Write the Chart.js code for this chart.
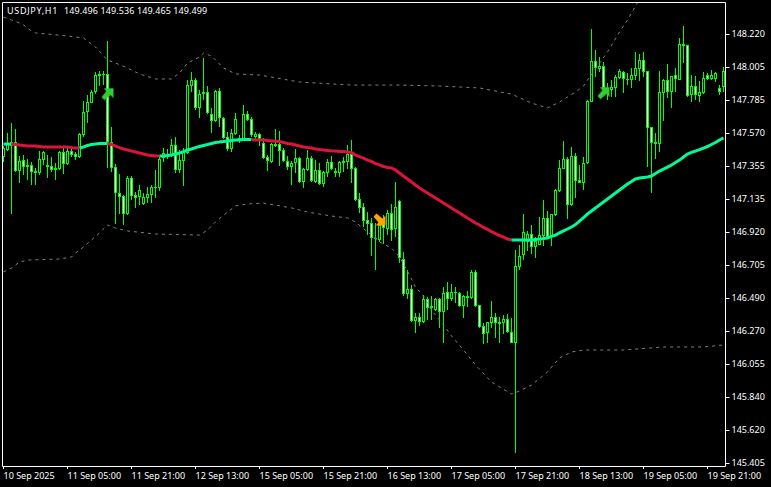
<!DOCTYPE html>
<html>
<head>
<meta charset="utf-8">
<title>USDJPY,H1</title>
<script src="https://cdn.jsdelivr.net/npm/chart.js@4"></script>
<style>
  html, body { margin: 0; padding: 0; background: #000; }
  canvas { display: block; }
</style>
</head>
<body>
<canvas id="myChart" width="771" height="487"></canvas>
<script>
// prices, one entry per H1 bar
var opens = [147.413,147.459,147.485,147.511,147.321,147.393,147.361,147.361,147.308,147.308,147.393,147.361,147.354,147.328,147.334,147.446,147.367,147.452,147.433,147.413,
147.557,147.708,147.767,147.839,147.958,147.951,147.958,147.511,147.347,147.177,147.157,147.039,147.275,147.164,147.151,147.105,147.144,147.164,147.210,147.210,
147.406,147.426,147.426,147.492,147.328,147.387,147.439,147.879,147.918,147.735,147.826,147.839,147.695,147.649,147.846,147.669,147.544,147.466,147.564,147.538,
147.525,147.695,147.662,147.544,147.564,147.505,147.413,147.380,147.485,147.498,147.459,147.387,147.347,147.374,147.406,147.249,147.328,147.406,147.249,147.328,
147.236,147.308,147.380,147.321,147.308,147.374,147.380,147.433,147.341,147.138,147.085,147.000,146.980,146.882,146.869,146.980,146.941,147.046,146.941,147.125,
146.744,146.514,146.547,146.337,146.363,146.331,146.482,146.423,146.409,146.482,146.396,146.527,146.482,146.527,146.521,146.436,146.501,146.488,146.659,146.442,
146.304,146.259,146.324,146.363,146.331,146.324,146.350,146.265,146.193,146.692,146.770,146.856,146.908,146.823,146.836,146.895,147.013,146.888,147.033,147.190,
147.334,147.400,147.098,147.420,147.262,147.243,147.374,147.774,148.043,147.990,148.010,147.853,147.853,147.866,147.931,147.971,147.925,147.918,147.944,147.990,
148.049,147.977,147.610,147.511,147.498,147.833,147.918,147.839,147.951,147.918,148.154,148.148,147.820,147.879,147.813,147.833,147.951,147.925,147.925,147.866,147.872];
var highs = [147.485,147.571,147.636,147.597,147.420,147.426,147.400,147.380,147.341,147.452,147.452,147.426,147.413,147.374,147.452,147.479,147.479,147.479,147.446,147.571,
147.780,147.820,147.853,147.971,147.977,147.977,148.174,147.610,147.367,147.302,147.164,147.288,147.288,147.184,147.229,147.177,147.216,147.229,147.328,147.413,
147.472,147.466,147.531,147.544,147.459,147.472,147.918,147.971,147.931,147.853,148.063,147.879,147.735,147.853,147.866,147.675,147.577,147.597,147.702,147.557,
147.754,147.715,147.675,147.577,147.571,147.538,147.426,147.505,147.597,147.584,147.472,147.420,147.387,147.466,147.413,147.341,147.459,147.420,147.393,147.374,
147.321,147.400,147.420,147.341,147.387,147.413,147.492,147.525,147.347,147.177,147.111,147.052,147.013,146.980,147.007,147.033,147.065,147.105,147.249,147.131,
146.790,146.672,146.573,146.390,146.390,146.508,146.495,146.501,146.488,146.488,146.560,146.593,146.580,146.560,146.527,146.508,146.534,146.672,146.672,146.442,
146.324,146.331,146.469,146.390,146.363,146.377,146.383,146.357,146.803,146.836,147.039,146.928,146.967,146.888,147.020,147.131,147.059,147.039,147.203,147.393,
147.518,147.413,147.479,147.439,147.361,147.413,147.787,148.253,148.115,148.069,148.036,147.899,147.918,147.951,147.990,147.977,147.964,147.997,148.102,148.089,
148.102,147.977,147.610,147.571,147.977,147.925,148.023,147.944,147.997,148.194,148.272,148.148,147.951,147.944,147.912,147.971,147.964,147.984,147.971,147.885,148.003];
var lows = [147.380,147.452,147.039,147.315,147.243,147.295,147.262,147.229,147.229,147.295,147.361,147.275,147.315,147.262,147.328,147.302,147.361,147.413,147.393,147.406,
147.544,147.636,147.767,147.826,147.879,147.885,147.341,147.315,146.974,147.039,146.967,147.033,147.131,147.079,147.098,147.098,147.111,147.111,147.144,147.190,
147.380,147.400,147.413,147.308,147.308,147.223,147.433,147.839,147.721,147.669,147.787,147.695,147.571,147.643,147.610,147.531,147.452,147.446,147.557,147.505,
147.518,147.649,147.544,147.525,147.485,147.400,147.321,147.374,147.479,147.354,147.380,147.328,147.229,147.308,147.243,147.210,147.321,147.249,147.243,147.229,
147.216,147.282,147.328,147.282,147.282,147.315,147.334,147.243,147.125,147.046,146.954,146.901,146.764,146.672,146.856,146.843,146.901,146.862,146.888,146.718,
146.501,146.482,146.331,146.259,146.304,146.324,146.344,146.344,146.403,146.291,146.193,146.409,146.469,146.455,146.429,146.357,146.429,146.482,146.429,146.291,
146.187,146.193,146.291,146.226,146.193,146.252,146.259,146.193,145.471,146.672,146.737,146.796,146.777,146.751,146.836,146.829,146.888,146.829,147.026,147.184,
147.334,147.006,147.092,147.144,147.243,147.197,147.367,147.774,147.938,147.971,147.820,147.787,147.807,147.807,147.925,147.833,147.885,147.866,147.918,147.912,
147.938,147.347,147.177,147.400,147.446,147.649,147.800,147.735,147.839,147.918,148.030,147.807,147.774,147.787,147.774,147.826,147.918,147.918,147.905,147.820,147.839];
var closes = [147.472,147.505,147.511,147.321,147.387,147.347,147.347,147.315,147.321,147.400,147.446,147.347,147.328,147.341,147.446,147.367,147.452,147.426,147.413,147.564,
147.708,147.774,147.839,147.951,147.944,147.958,147.511,147.341,147.177,147.151,147.039,147.275,147.157,147.144,147.197,147.151,147.170,147.216,147.216,147.400,
147.439,147.413,147.492,147.328,147.393,147.446,147.885,147.918,147.735,147.826,147.839,147.702,147.649,147.846,147.669,147.538,147.466,147.571,147.662,147.531,
147.695,147.656,147.557,147.564,147.531,147.406,147.387,147.498,147.498,147.452,147.387,147.347,147.374,147.406,147.249,147.334,147.406,147.256,147.328,147.236,
147.315,147.380,147.334,147.308,147.380,147.387,147.433,147.334,147.131,147.079,146.993,146.974,146.882,146.875,146.967,146.947,147.046,146.934,147.085,146.751,
146.514,146.547,146.337,146.363,146.331,146.482,146.423,146.436,146.482,146.396,146.521,146.482,146.527,146.521,146.436,146.501,146.488,146.659,146.436,146.298,
146.252,146.331,146.363,146.324,146.317,146.350,146.265,146.193,146.698,146.764,146.921,146.908,146.823,146.862,146.901,147.013,146.888,147.039,147.197,147.341,
147.400,147.098,147.420,147.256,147.243,147.374,147.780,148.043,147.997,148.010,147.866,147.866,147.872,147.938,147.977,147.925,147.918,147.951,147.997,148.049,
147.971,147.603,147.505,147.498,147.839,147.918,147.839,147.944,147.925,148.154,148.141,147.813,147.879,147.820,147.839,147.931,147.925,147.951,147.964,147.839,147.977];

// moving average, drawn red on the spans listed below and green elsewhere
var maValues = [147.498,147.498,147.498,147.495,147.492,147.489,147.485,147.485,147.485,147.482,147.479,147.479,147.479,147.479,147.479,147.479,147.479,147.475,147.472,147.472,
147.479,147.489,147.495,147.498,147.502,147.502,147.502,147.495,147.485,147.475,147.466,147.459,147.452,147.446,147.439,147.433,147.426,147.423,147.420,147.420,
147.420,147.423,147.426,147.433,147.439,147.449,147.459,147.466,147.475,147.482,147.489,147.495,147.502,147.508,147.511,147.515,147.518,147.521,147.525,147.525,
147.528,147.528,147.528,147.525,147.525,147.525,147.521,147.518,147.518,147.515,147.508,147.502,147.498,147.492,147.485,147.479,147.475,147.472,147.466,147.462,
147.459,147.456,147.452,147.452,147.449,147.449,147.446,147.443,147.426,147.416,147.406,147.393,147.384,147.370,147.361,147.351,147.344,147.341,147.328,147.308,
147.288,147.269,147.249,147.229,147.210,147.193,147.177,147.161,147.144,147.128,147.111,147.095,147.079,147.062,147.046,147.029,147.013,146.997,146.980,146.967,
146.951,146.938,146.924,146.911,146.898,146.888,146.875,146.869,146.869,146.869,146.869,146.869,146.869,146.872,146.875,146.879,146.882,146.892,146.901,146.915,
146.928,146.941,146.954,146.970,146.993,147.016,147.039,147.059,147.079,147.098,147.118,147.138,147.157,147.177,147.197,147.216,147.236,147.252,147.269,147.275,
147.279,147.282,147.288,147.305,147.321,147.334,147.347,147.361,147.377,147.393,147.413,147.433,147.443,147.452,147.462,147.472,147.482,147.495,147.508,147.525,147.538];
var maRedSpans = [[2, 19], [26, 39], [62, 127]];

// envelope bands, only the bends were read, the line joins them
var upperIdx = [0,2,4,5,6,7,8,11,16,18,20,21,23,26,28,31,34,38,42,44,46,49,50,52,55,58,64,74,87,99,109,119,127,132,136,139,141,143,145,146,151,154,156,158,160];
var upperVal = [148.331,148.312,148.292,148.279,148.259,148.240,148.227,148.220,148.207,148.200,148.194,148.174,148.135,148.049,148.030,147.997,147.958,147.925,147.925,147.964,148.030,148.069,148.095,148.076,147.997,147.958,147.951,147.905,147.885,147.885,147.879,147.866,147.826,147.767,147.735,147.774,147.807,147.839,147.879,147.918,148.102,148.233,148.312,148.404,148.495];
var lowerIdx = [0,2,4,6,14,17,18,20,22,24,26,28,31,38,49,51,53,56,58,61,65,72,76,82,86,88,91,94,97,99,101,103,105,107,110,112,115,118,122,127,129,132,136,139,142,145,155,165,175,180];
var lowerVal = [146.659,146.685,146.724,146.737,146.744,146.757,146.783,146.823,146.869,146.915,146.967,146.947,146.928,146.908,146.901,146.934,146.987,147.052,147.092,147.105,147.111,147.079,147.052,147.026,147.013,146.987,146.921,146.856,146.816,146.757,146.665,146.560,146.501,146.409,146.311,146.239,146.147,146.049,145.937,145.858,145.878,145.917,146.003,146.095,146.134,146.147,146.147,146.167,146.167,146.180];

// signal arrows
var buyIdx = [26, 150];
var buyVal = [147.826, 147.833];
var sellIdx = [94];
var sellVal = [147.003];

// axes
var yTickValues = [148.217,148.000,147.784,147.567,147.351,147.134,146.918,146.701,146.485,146.268,146.052,145.835,145.619,145.402];
var yTickLabels = ["148.220","148.005","147.785","147.570","147.355","147.135","146.920","146.705","146.490","146.270","146.055","145.840","145.620","145.405"];
var xTickIdx = [0,16,32,48,64,80,96,112,128,144,160,176];
var xTickLabels = ["10 Sep 2025","11 Sep 05:00","11 Sep 21:00","12 Sep 13:00","15 Sep 05:00","15 Sep 21:00","16 Sep 13:00","17 Sep 05:00","17 Sep 21:00","18 Sep 13:00","19 Sep 05:00","19 Sep 21:00"];
var headerSymbol = "USDJPY,H1";
var headerPrices = "149.496 149.536 149.465 149.499";

var uiFont = { family: "'Noto Sans', sans-serif", size: 9 };

// spread sparse readings over the bars, the gaps get spanned
function sparseSeries(idx, val) {
  var out = opens.map(function () { return null; });
  idx.forEach(function (bar, i) { out[bar] = val[i]; });
  return out;
}

function isRedBar(i) {
  return maRedSpans.some(function (s) { return i >= s[0] && i < s[1]; });
}

// little 13x13 arrow sprite, pointing up and to the right before rotating
function arrowSprite(color, turns) {
  var c = document.createElement("canvas");
  c.width = 13;
  c.height = 13;
  var g = c.getContext("2d");
  g.translate(6.5, 6.5);
  g.rotate(turns * Math.PI / 2);
  g.translate(-6.5, -6.5);
  g.fillStyle = color;
  g.beginPath();
  g.moveTo(2.5, 0.5);
  g.lineTo(12.5, 0.5);
  g.lineTo(12.5, 10.5);
  g.lineTo(9.5, 7.5);
  g.lineTo(3.5, 12.5);
  g.lineTo(0.5, 9.5);
  g.lineTo(5.5, 3.5);
  g.closePath();
  g.fill();
  return c;
}

// MT4 snaps candles on whole pixels, do the same so the outlines stay sharp
var snapBars = {
  id: "snapBars",
  afterDatasetsUpdate: function (chart) {
    chart.data.datasets.forEach(function (ds, i) {
      if (ds.type !== "bar") return;
      chart.getDatasetMeta(i).data.forEach(function (el) {
        el.y = Math.round(el.y);
        el.base = Math.round(el.base);
        if (el.y === el.base) el.base = el.y + 1;
      });
    });
  }
};

var frameAndHeader = {
  id: "frameAndHeader",
  afterDraw: function (chart) {
    var a = chart.chartArea, g = chart.ctx;
    g.save();
    g.strokeStyle = "#ffffff";
    g.lineWidth = 1;
    g.beginPath();
    g.moveTo(a.left + 1, a.bottom + 0.5);
    g.lineTo(a.left + 1, a.top + 0.5);
    g.lineTo(a.right, a.top + 0.5);
    g.lineTo(a.right, a.bottom + 0.5);
    g.lineTo(a.left + 1, a.bottom + 0.5);
    g.stroke();
    g.fillStyle = "#ffffff";
    g.font = uiFont.size + "px " + uiFont.family;
    g.textBaseline = "alphabetic";
    g.letterSpacing = "0.7px";
    g.fillText(headerSymbol, 7, 14);
    g.letterSpacing = "0.1px";
    g.fillText(headerPrices, 64, 14);
    g.restore();
  }
};

var canvas = document.getElementById("myChart");
var ctx = canvas.getContext("2d", { alpha: false });

new Chart(ctx, {
  type: "bar",
  data: {
    labels: opens.map(function (_, i) { return String(i); }),
    datasets: [
      {
        type: "line", order: 0, data: sparseSeries(buyIdx, buyVal), showLine: false,
        pointStyle: arrowSprite("#32cd32", 0), pointRadius: 6
      },
      {
        type: "line", order: 0, data: sparseSeries(sellIdx, sellVal), showLine: false,
        pointStyle: arrowSprite("#ffa500", 1), pointRadius: 6
      },
      {
        type: "line", order: 1, data: maValues, borderWidth: 3, pointRadius: 0, tension: 0,
        borderColor: "#00fa9a",
        segment: {
          borderColor: function (c) { return isRedBar(c.p0DataIndex) ? "#dc143c" : "#00fa9a"; }
        }
      },
      {
        type: "line", order: 2, data: sparseSeries(upperIdx, upperVal), spanGaps: true,
        borderWidth: 1, borderColor: "#808080", borderDash: [3, 4], pointRadius: 0, tension: 0
      },
      {
        type: "line", order: 2, data: sparseSeries(lowerIdx, lowerVal), spanGaps: true,
        borderWidth: 1, borderColor: "#808080", borderDash: [3, 4], pointRadius: 0, tension: 0
      },
      {
        type: "bar", order: 3, grouped: false, barThickness: 3, inflateAmount: 0,
        data: opens.map(function (o, i) { return [o, closes[i]]; }),
        borderWidth: 1, borderSkipped: false, borderColor: "#00ff00",
        backgroundColor: opens.map(function (o, i) { return closes[i] < o ? "#ffffff" : "#000000"; })
      },
      {
        type: "bar", order: 4, grouped: false, barThickness: 1, inflateAmount: 0,
        data: lows.map(function (l, i) { return [l, highs[i]]; }),
        borderWidth: 0, backgroundColor: "#00ff00"
      }
    ]
  },
  options: {
    responsive: false,
    animation: false,
    events: [],
    layout: { autoPadding: false, padding: { left: 1.5, top: 2, right: 0, bottom: 0 } },
    plugins: { legend: { display: false }, title: { display: false }, tooltip: { enabled: false } },
    scales: {
      x: {
        offset: true,
        grid: { offset: false, drawOnChartArea: false, tickColor: "#ffffff", tickLength: 3 },
        border: { display: false },
        ticks: {
          color: "#ffffff", font: uiFont, align: "start", autoSkip: false, maxRotation: 0, minRotation: 0, padding: 2,
          callback: function (value, index) { return xTickLabels[index]; }
        },
        afterBuildTicks: function (scale) {
          scale.ticks = xTickIdx.map(function (i) { return { value: i }; });
        },
        afterFit: function (scale) {
          scale.height = 21;
          scale.paddingLeft = 0;
          scale.paddingRight = 0;
        }
      },
      y: {
        position: "right",
        min: 145.386,
        max: 148.430,
        grid: { drawOnChartArea: false, tickColor: "#ffffff", tickLength: 4 },
        border: { display: false },
        ticks: {
          color: "#ffffff", font: uiFont, autoSkip: false, padding: 2, crossAlign: "near",
          callback: function (value, index) { return yTickLabels[index]; }
        },
        afterBuildTicks: function (scale) {
          scale.ticks = yTickValues.map(function (v) { return { value: v }; });
        },
        afterFit: function (scale) {
          scale.width = 45.5;
          scale.paddingTop = 0;
          scale.paddingBottom = 0;
        }
      }
    }
  },
  plugins: [snapBars, frameAndHeader]
});
</script>
</body>
</html>
